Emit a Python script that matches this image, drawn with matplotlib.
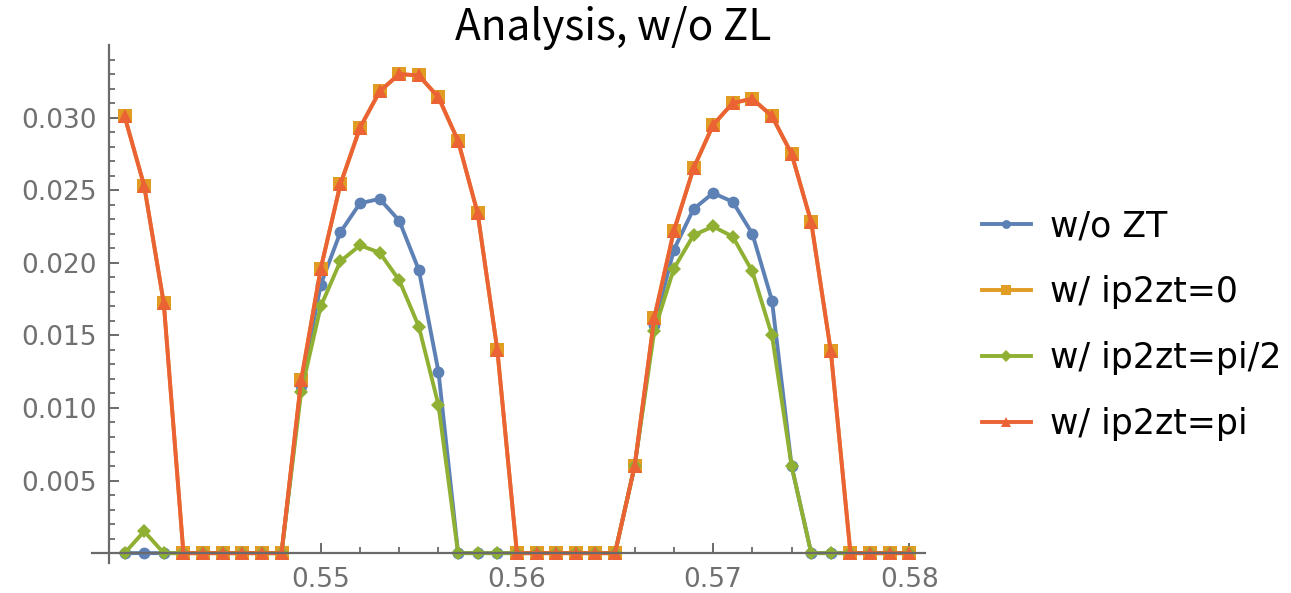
import matplotlib
matplotlib.use("Agg")
import matplotlib.pyplot as plt
from matplotlib.ticker import FixedLocator

# Sweep points
x = [0.540, 0.541, 0.542, 0.543, 0.544, 0.545, 0.546, 0.547, 0.548, 0.549,
     0.550, 0.551, 0.552, 0.553, 0.554, 0.555, 0.556, 0.557, 0.558, 0.559,
     0.560, 0.561, 0.562, 0.563, 0.564, 0.565, 0.566, 0.567, 0.568, 0.569,
     0.570, 0.571, 0.572, 0.573, 0.574, 0.575, 0.576, 0.577, 0.578, 0.579,
     0.580]

wo_zt = [0, 0, 0, 0, 0, 0, 0, 0, 0, 0.0115,
         0.0185, 0.0221, 0.0241, 0.0244, 0.0229, 0.0195, 0.0125, 0, 0, 0,
         0, 0, 0, 0, 0, 0, 0.0060, 0.0157, 0.0209, 0.0237,
         0.0248, 0.0242, 0.0220, 0.0174, 0.0060, 0, 0, 0, 0, 0,
         0]

ip2zt_0 = [0.0301, 0.0253, 0.0172, 0, 0, 0, 0, 0, 0, 0.0119,
           0.0196, 0.0254, 0.0293, 0.0318, 0.0330, 0.0329, 0.0314, 0.0284, 0.0234, 0.0140,
           0, 0, 0, 0, 0, 0, 0.0060, 0.0162, 0.0222, 0.0265,
           0.0295, 0.0310, 0.0313, 0.0301, 0.0275, 0.0228, 0.0139, 0, 0, 0,
           0]

ip2zt_half_pi = [0, 0.0015, 0, 0, 0, 0, 0, 0, 0, 0.0111,
                 0.0170, 0.0201, 0.0212, 0.0207, 0.0188, 0.0156, 0.0102, 0, 0, 0,
                 0, 0, 0, 0, 0, 0, 0.0060, 0.0153, 0.0196, 0.0219,
                 0.0225, 0.0218, 0.0194, 0.0150, 0.0060, 0, 0, 0, 0, 0,
                 0]

ip2zt_pi = [0.0301, 0.0253, 0.0172, 0, 0, 0, 0, 0, 0, 0.0119,
            0.0196, 0.0254, 0.0293, 0.0318, 0.0330, 0.0329, 0.0314, 0.0284, 0.0234, 0.0140,
            0, 0, 0, 0, 0, 0, 0.0060, 0.0162, 0.0222, 0.0265,
            0.0295, 0.0310, 0.0313, 0.0301, 0.0275, 0.0228, 0.0139, 0, 0, 0,
            0]

labels = ["w/o ZT", "w/ ip2zt=0", "w/ ip2zt=pi/2", "w/ ip2zt=pi"]
series = [wo_zt, ip2zt_0, ip2zt_half_pi, ip2zt_pi]
colors = ["#5E81B5", "#E19C24", "#8FB032", "#EB6235"]
markers = ["o", "s", "D", "^"]
msizes = [8.5, 10, 7.5, 10.5]

x_major = [0.55, 0.56, 0.57, 0.58]
x_major_labels = ["0.55", "0.56", "0.57", "0.58"]
x_minor = [0.540, 0.542, 0.544, 0.546, 0.548, 0.552, 0.554, 0.556, 0.558,
           0.562, 0.564, 0.566, 0.568, 0.572, 0.574, 0.576, 0.578]
y_major = [0.005, 0.010, 0.015, 0.020, 0.025, 0.030]
y_major_labels = ["0.005", "0.010", "0.015", "0.020", "0.025", "0.030"]
y_minor = [v / 1000 for v in range(1, 35) if v % 5 != 0]

axis_grey = "#6a6a6a"
label_grey = "#707070"

fig = plt.figure(figsize=(12.91, 5.93), dpi=100)
ax = fig.add_axes([92 / 1291, 30 / 593, 833 / 1291, 518 / 593])
ax.set_xlim(0.53834, 0.5808)
ax.set_ylim(-0.00068, 0.0350)

handles = []
for vals, lab, col, mk, ms in zip(series, labels, colors, markers, msizes):
    h, = ax.plot(x, vals, color=col, lw=2.8, marker=mk, markersize=ms,
                 markeredgewidth=0, label=lab, clip_on=False)
    handles.append(h)

for side in ("top", "right"):
    ax.spines[side].set_visible(False)
ax.spines["left"].set_position(("data", 0.53921))
ax.spines["bottom"].set_position(("data", 0))
for side in ("left", "bottom"):
    ax.spines[side].set_color(axis_grey)
    ax.spines[side].set_linewidth(1.6)

ax.xaxis.set_major_locator(FixedLocator(x_major))
ax.xaxis.set_minor_locator(FixedLocator(x_minor))
ax.set_xticklabels(x_major_labels)
ax.yaxis.set_major_locator(FixedLocator(y_major))
ax.yaxis.set_minor_locator(FixedLocator(y_minor))
ax.set_yticklabels(y_major_labels)

ax.tick_params(which="major", direction="in", length=7, width=1.4,
               color=axis_grey, labelcolor=label_grey, labelsize=19)
ax.tick_params(axis="x", which="major", pad=10)
ax.tick_params(axis="y", which="major", pad=9)
ax.tick_params(which="minor", direction="in", length=4.5, width=1.3,
               color=axis_grey)

fig.text(0.4752, 0.9325, "Analysis, w/o ZL", ha="center", va="baseline",
         fontsize=30.5, fontweight="light",
         family=["Noto Sans CJK SC", "DejaVu Sans"], color="black")

leg = fig.legend(handles=handles, labels=labels, loc="center left",
                 bbox_to_anchor=(982 / 1291, 0.452), frameon=False,
                 fontsize=25, handlelength=1.4, handletextpad=0.55,
                 labelspacing=0.92, borderpad=0, borderaxespad=0,
                 markerscale=0.75)

fig.savefig("out.png", dpi=100)
